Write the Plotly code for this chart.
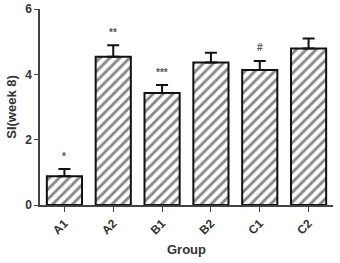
import plotly.graph_objects as go

groups = ["A1", "A2", "B1", "B2", "C1", "C2"]
values = [0.88, 4.54, 3.43, 4.36, 4.13, 4.79]
errors = [0.22, 0.35, 0.24, 0.30, 0.28, 0.31]
marks = ["*", "**", "***", "", "#", ""]

fig = go.Figure()
fig.add_trace(go.Bar(
    x=groups, y=values,
    marker=dict(color="white", line=dict(color="#111", width=2),
                pattern=dict(shape="/", fgcolor="#111", bgcolor="white", size=7, solidity=0.42)),
    error_y=dict(type="data", symmetric=False, array=errors, arrayminus=[0]*len(errors),
                 color="#111", thickness=2, width=6),
))
for g, v, e, m in zip(groups, values, errors, marks):
    if m:
        fig.add_annotation(x=g, y=v + e, text=m, showarrow=False, yshift=13,
                           font=dict(size=10, color="#555", family="Arial", weight="bold"))

fig.update_layout(
    width=340, height=263, margin=dict(l=40, r=7, t=9, b=58),
    plot_bgcolor="white", paper_bgcolor="white", bargap=0.28, showlegend=False,
    font=dict(family="Arial", color="#333"),
)
fig.update_xaxes(showline=True, linecolor="#444", linewidth=1.5, ticks="outside", ticklen=5,
                 tickcolor="#444", tickangle=-45, automargin=False,
                 tickfont=dict(size=12, family="Arial", color="#333", weight="bold"),
                 title=dict(text="Group", font=dict(size=13, color="#333", weight="bold"), standoff=9))
fig.update_yaxes(range=[0, 6], tickvals=[0, 2, 4, 6], showline=True, linecolor="#444", linewidth=1.5,
                 ticks="outside", ticklen=4, tickcolor="#444", showgrid=False, zeroline=False,
                 automargin=False,
                 tickfont=dict(size=12, color="#333", weight="bold"),
                 title=dict(text="SI(week 8)", font=dict(size=13, color="#333", weight="bold"), standoff=6))
fig.write_html("out.html", config={"displayModeBar": False},
               post_script="document.body.style.margin='0';document.body.style.padding='0';")
